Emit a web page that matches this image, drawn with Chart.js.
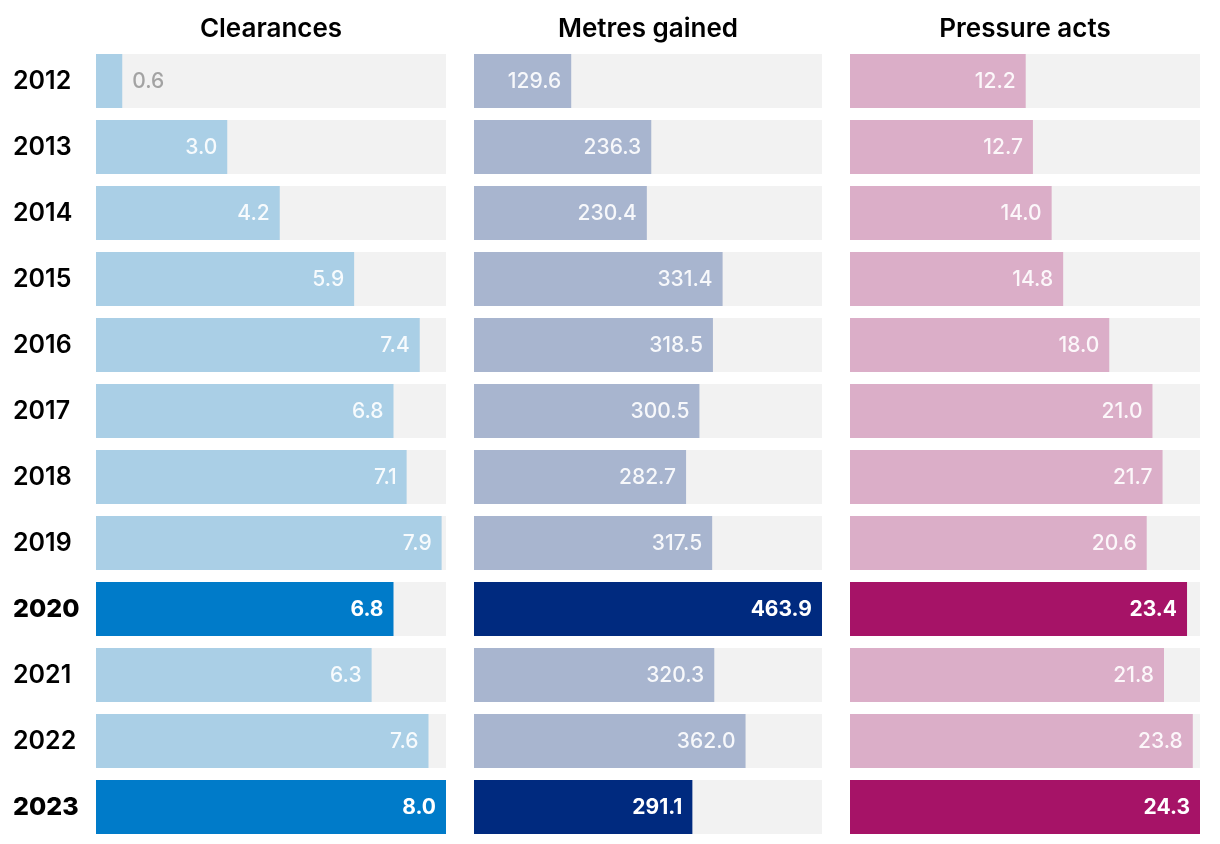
<!DOCTYPE html>
<html>
<head>
<meta charset="utf-8">
<script src="https://cdn.jsdelivr.net/npm/chart.js@4"></script>
<style>
  body { margin: 0; background: #fff; }
  #wrap { position: relative; width: 1220px; height: 844px; }
  canvas { position: absolute; top: 0; }
</style>
</head>
<body>
<div id="wrap">
  <canvas id="clearances" width="446" height="844" style="left:0"></canvas>
  <canvas id="metres" width="348" height="844" style="left:474px"></canvas>
  <canvas id="pressure" width="350" height="844" style="left:850px"></canvas>
</div>
<script>
// seasons shown down the side
var years = ["2012", "2013", "2014", "2015", "2016", "2017", "2018", "2019", "2020", "2021", "2022", "2023"];
var highlightYears = ["2020", "2023"];

// per-game averages
var clearances = [0.6, 3.0, 4.2, 5.9, 7.4, 6.8, 7.1, 7.9, 6.8, 6.3, 7.6, 8.0];
var metresGained = [129.6, 236.3, 230.4, 331.4, 318.5, 300.5, 282.7, 317.5, 463.9, 320.3, 362.0, 291.1];
var pressureActs = [12.2, 12.7, 14.0, 14.8, 18.0, 21.0, 21.7, 20.6, 23.4, 21.8, 23.8, 24.3];

var FONT = "Inter, 'Noto Sans', sans-serif";

function isHighlight(i) {
    return highlightYears.indexOf(years[i]) >= 0;
}

// grey track behind every bar, full width of the plot
var trackPlugin = {
    id: "tracks",
    beforeDatasetsDraw: function(chart) {
        var ctx = chart.ctx;
        var area = chart.chartArea;
        var meta = chart.getDatasetMeta(0);
        ctx.save();
        ctx.fillStyle = "#f2f2f2";
        meta.data.forEach(function(bar) {
            var p = bar.getProps(["y", "height"], true);
            ctx.fillRect(area.left, p.y - p.height / 2, area.right - area.left, p.height);
        });
        ctx.restore();
    }
};

// value written at the end of each bar
var valuePlugin = {
    id: "values",
    afterDatasetsDraw: function(chart) {
        var ctx = chart.ctx;
        var meta = chart.getDatasetMeta(0);
        var values = chart.data.datasets[0].data;
        ctx.save();
        ctx.textBaseline = "middle";
        meta.data.forEach(function(bar, i) {
            var p = bar.getProps(["x", "y", "base"], true);
            var text = values[i].toFixed(1);
            var bold = isHighlight(i);
            ctx.font = (bold ? "700 " : "500 ") + "21px " + FONT;
            var w = ctx.measureText(text).width;
            if (p.x - p.base > w + 20) {
                ctx.textAlign = "right";
                ctx.fillStyle = bold ? "#ffffff" : "rgba(255,255,255,0.9)";
                ctx.fillText(text, p.x - 10, p.y + 1);
            } else {
                ctx.textAlign = "left";
                ctx.fillStyle = "#a3a3a3";
                ctx.fillText(text, p.x + 10, p.y + 1);
            }
        });
        ctx.restore();
    }
};

function makeChart(id, title, values, light, dark, showYears) {
    var colours = values.map(function(v, i) { return isHighlight(i) ? dark : light; });
    return new Chart(document.getElementById(id), {
        type: "bar",
        data: {
            labels: years,
            datasets: [{
                label: title,
                data: values,
                backgroundColor: colours,
                barPercentage: 1,
                categoryPercentage: 54 / 66
            }]
        },
        options: {
            indexAxis: "y",
            responsive: false,
            animation: false,
            layout: { padding: { left: showYears ? 13 : 0, bottom: 4 } },
            scales: {
                x: {
                    display: false,
                    min: 0,
                    max: Math.max.apply(null, values)
                },
                y: {
                    display: showYears,
                    grid: { display: false },
                    border: { display: false },
                    afterFit: function(scale) {
                        if (!showYears) return;
                        scale.width = 83;
                        // don't let the labels shrink the plot
                        scale.paddingTop = 0;
                        scale.paddingBottom = 0;
                    },
                    ticks: {
                        crossAlign: "far",
                        color: "#000",
                        padding: 0,
                        font: function(c) {
                            return { family: FONT, size: 25, weight: isHighlight(c.index) ? "800" : "600" };
                        }
                    }
                }
            },
            plugins: {
                legend: { display: false },
                tooltip: { enabled: false },
                title: {
                    display: true,
                    text: title,
                    fullSize: false,
                    color: "#000",
                    font: { family: FONT, size: 26, weight: "600", lineHeight: 1.1 },
                    padding: { top: 15, bottom: 4.4 }
                }
            }
        },
        plugins: [trackPlugin, valuePlugin]
    });
}

function main() {
    makeChart("clearances", "Clearances", clearances, "#aacfe6", "#007bc9", true);
    makeChart("metres", "Metres gained", metresGained, "#a8b5cf", "#002a7f", false);
    makeChart("pressure", "Pressure acts", pressureActs, "#dbaec8", "#a61367", false);
}

main();
</script>
</body>
</html>
